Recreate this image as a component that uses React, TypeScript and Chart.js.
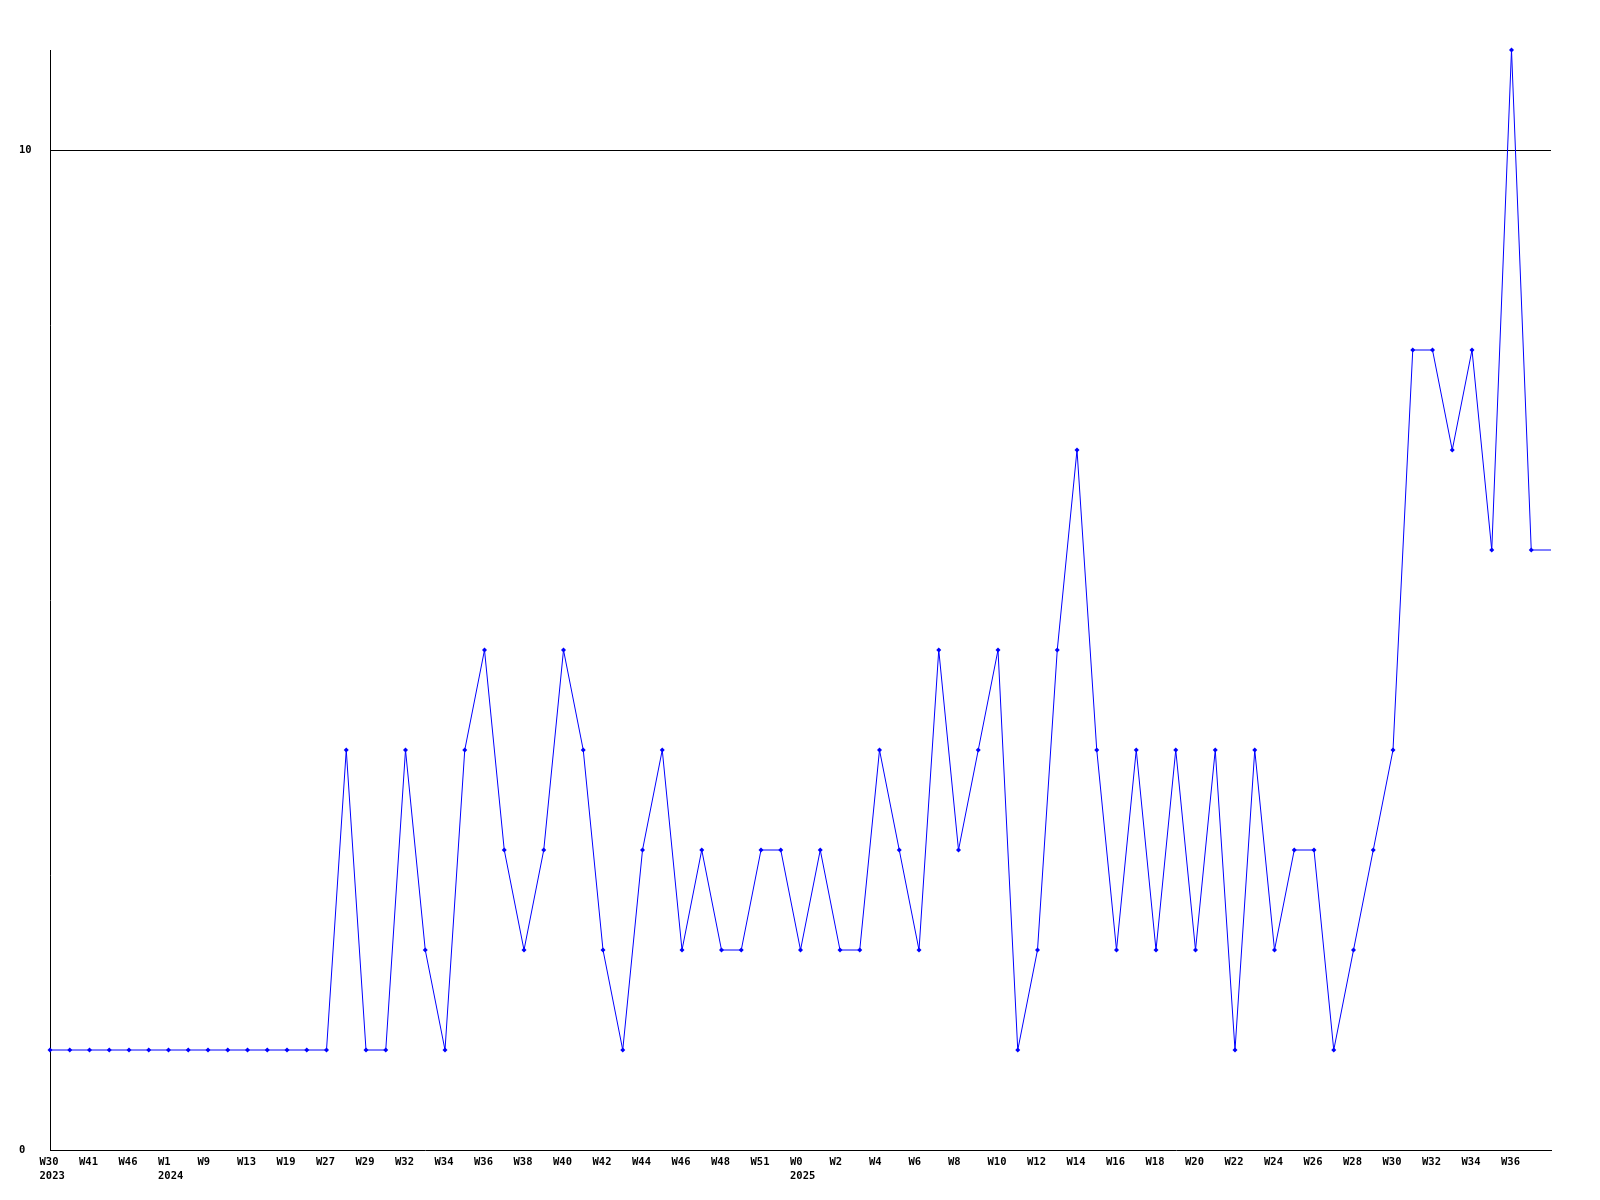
import React, { useEffect, useRef } from "react";
import { Chart, registerables } from "chart.js";

Chart.register(...registerables);

const weekLabels = [
  "W30", "W35", "W41", "W44", "W46", "W50", "W1", "W5", "W9", "W11",
  "W13", "W16", "W19", "W24", "W27", "W28", "W29", "W31", "W32", "W33",
  "W34", "W35", "W36", "W37", "W38", "W39", "W40", "W41", "W42", "W43",
  "W44", "W45", "W46", "W47", "W48", "W50", "W51", "W52", "W0", "W1",
  "W2", "W3", "W4", "W5", "W6", "W7", "W8", "W9", "W10", "W11",
  "W12", "W13", "W14", "W15", "W16", "W17", "W18", "W19", "W20", "W21",
  "W22", "W23", "W24", "W25", "W26", "W27", "W28", "W29", "W30", "W31",
  "W32", "W33", "W34", "W35", "W36", "W37", "W38",
];

const yearLabels: Record<number, string> = { 0: "2023", 6: "2024", 38: "2025" };

const counts = [
  1, 1, 1, 1, 1, 1, 1, 1, 1, 1,
  1, 1, 1, 1, 1, 4, 1, 1, 4, 2,
  1, 4, 5, 3, 2, 3, 5, 4, 2, 1,
  3, 4, 2, 3, 2, 2, 3, 3, 2, 3,
  2, 2, 4, 3, 2, 5, 3, 4, 5, 1,
  2, 5, 7, 4, 2, 4, 2, 4, 2, 4,
  1, 4, 2, 3, 3, 1, 2, 3, 4, 8,
  8, 7, 8, 6, 11, 6, 6,
];

const yTicks = [0, 10];

export default function App() {
  const ref = useRef<HTMLCanvasElement | null>(null);

  useEffect(() => {
    document.body.style.margin = "0";
    const canvas = ref.current;
    if (!canvas) return;
    const labels = weekLabels.map((w, i) => (yearLabels[i] ? [w, yearLabels[i]] : w));
    const lastIdx = counts.length - 1;
    const font = { family: "'DejaVu Sans Mono', monospace", size: 10.5, weight: "bold" as const, lineHeight: 1.32 };
    const chart = new Chart(canvas, {
      type: "line",
      data: {
        labels,
        datasets: [
          {
            data: counts,
            borderColor: "#0000ff",
            backgroundColor: "#0000ff",
            borderWidth: 1,
            pointStyle: "rectRot",
            pointRadius: counts.map((_, i) => (i === lastIdx ? 0 : 2.5)),
            pointBorderWidth: 0,
            pointBackgroundColor: "#0000ff",
            tension: 0,
            fill: false,
            clip: false as any,
          },
        ],
      },
      options: {
        responsive: false,
        animation: false,
        devicePixelRatio: 1,
        layout: { padding: { left: 19, top: 50, right: 49, bottom: 0 } },
        plugins: { legend: { display: false }, tooltip: { enabled: false } },
        scales: {
          x: {
            type: "category",
            offset: false,
            grid: { display: false, drawTicks: false },
            border: { display: true, color: "#000000", width: 1 },
            ticks: {
              autoSkip: false,
              maxRotation: 0,
              minRotation: 0,
              padding: 5,
              align: "start",
              labelOffset: -10.5,
              color: "#000000",
              font,
              callback: function (this: any, _v: any, i: number) {
                if (i % 2 !== 0 || i === lastIdx) return "";
                return labels[i] as any;
              },
            },
            afterFit: (s: any) => {
              s.height = 50;
            },
          },
          y: {
            min: 0,
            max: 11,
            grid: {
              drawTicks: false,
              color: (ctx: any) => (ctx.tick && ctx.tick.value === 10 ? "#000000" : "rgba(0,0,0,0)"),
              lineWidth: 1,
            },
            border: { display: true, color: "#000000", width: 1 },
            afterBuildTicks: (s: any) => {
              s.ticks = yTicks.map((v) => ({ value: v }));
            },
            ticks: {
              crossAlign: "far",
              padding: 0,
              color: "#000000",
              font,
            },
            afterFit: (s: any) => {
              s.width = 31;
            },
          },
        },
      },
    });
    return () => chart.destroy();
  }, []);

  return <canvas ref={ref} width={1600} height={1200} style={{ display: "block", width: 1600, height: 1200 }} />;
}
